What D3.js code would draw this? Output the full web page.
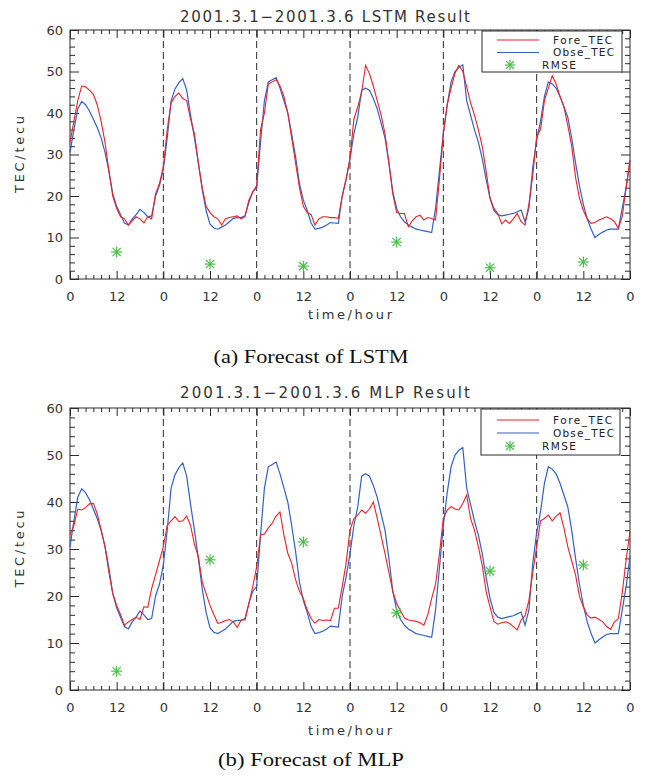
<!DOCTYPE html>
<html><head><meta charset="utf-8">
<script src="https://cdn.jsdelivr.net/npm/d3@7"></script>
<style>body{margin:0;background:#fff}svg{display:block}</style>
</head><body><svg id="c" width="650" height="775"></svg>
<script>
// ---------- data ----------
const hours = d3.range(0, 145);
const obsTEC = [
  30.5,36,41,42.8,42,40.5,38.5,36.5,34,30.5,26,20.5,17.5,15.5,13.5,13,14.5,15.5,16.8,16,15,15.2,20,22.5,
  26.5,34,43,45.8,47.3,48.3,45.5,39.5,34,28,21.5,16.5,13.2,12.3,12,12.5,13,13.8,14.6,14.8,14.8,15.2,18.5,21,
  22,33,43,47.5,48,48.5,46,43,40,35,29.5,23,19,16.5,13.5,12,12.2,12.5,13,13.6,13.5,13.4,20,24,
  29,35,39,45.5,46,45.5,43.5,41,37.5,34,28,21,17,15,13.8,13,12.5,12,11.8,11.6,11.4,11.2,17,26,
  35,42,47.5,50,51,51.6,43,39.5,36,33,29,24,19.5,16.5,15.5,15.2,15.4,15.6,15.8,16.2,16.6,13.8,17,27,
  33.5,38,44,47.5,47,46,44,41.5,39,34,28,22.5,18,14.5,12,10,10.7,11.3,11.8,12,12,12,17,22,28.5
];
const lstmTEC = [
  33,38,43,46.5,46.3,45.5,44.5,42,38,33,26,20,17,15,14.5,13,14,15,14.5,13.5,15,14.5,20.5,23,
  27,36,42.5,44,44.8,43.5,43,38.5,35,28,22,17.5,16,15,14.5,13,14.5,14.8,15,15.2,14.5,15,19,21,
  22.5,36,40,47,47.5,48,46.5,44,40,34,28,22,17.5,16,15.5,13,14.5,15,15,14.8,14.8,14.6,20,24,
  29,38.5,41.5,45,51.5,49.5,46.5,43,39.5,35,28,20.5,16,15.8,15.8,12.6,14,15,15.4,14.2,14.8,14.6,14.2,24,
  35,42,46,49.6,51.5,50,46.3,42.5,39.5,36,32,26,19.5,17,15.8,13.3,14.2,13.4,14.5,15.8,13.8,13,18,25,
  34.3,36,43,46,49,47,44,41.5,37,32,24.5,19.5,16.5,14.5,13.4,13.6,14.2,14.6,15,14.5,13.8,12.2,15,22,28.7
];
const mlpTEC = [
  33,35,38.5,38.3,38.8,39.6,39.7,37.5,34,30.5,25,20.5,18,16,13.8,14.5,15,15.5,15,17.7,17.6,21.6,24.5,27.5,
  30.5,35,36,36.9,35.8,36,37,35,31,28.4,23,20.5,18,16,14.2,14.4,14.8,15,14.5,13.3,14.9,14.9,18.4,22,
  26.2,33,33.2,34.5,35.5,37,37.9,33,29.1,27,23.5,21,19.5,17,15.2,14.2,15,14.8,14.9,14.8,17.4,17.4,22,27,
  34,36.5,37.2,38.3,37.6,38.5,40,36.5,32.8,29,25,21,18.4,16.8,15.3,14.9,14.8,14.6,14.3,13.8,16,19.5,22.5,29,
  36.5,38.3,39,38.5,38.3,39.7,41.5,36.5,34,30.5,26.5,21,17.7,14.6,14,14.3,14.5,14.2,13.5,12.8,14.9,15.8,19,25,
  30.5,36,36.5,37.2,36,37,37.7,34.5,30.5,27.5,24.5,19.9,17.7,16,15.3,15.5,15,14.5,13.5,12.9,14.5,15.2,20.6,27.7,33.7
];
const rmseHours = [12, 36, 60, 84, 108, 132];
const lstmRMSE = [6.5, 3.6, 3.1, 8.9, 2.7, 4.1];
const mlpRMSE = [4.0, 27.7, 31.5, 16.4, 25.3, 26.6];
const xTickValues = [0,12,24,36,48,60,72,84,96,108,120,132,144];
const xTickLabels = ["0","12","0","12","0","12","0","12","0","12","0","12","0"];
const yTickValues = [0,10,20,30,40,50,60];
const dayBoundaries = [24,48,72,96,120];
const titles = ["2001.3.1\u22122001.3.6 LSTM Result", "2001.3.1\u22122001.3.6 MLP Result"];
const captions = ["(a) Forecast of LSTM", "(b) Forecast of MLP"];
const legendNames = ["Fore_TEC", "Obse_TEC", "RMSE"];

// ---------- layout ----------
const svg = d3.select("#c");
const X0 = 70, X1 = 630;
const x = d3.scaleLinear().domain([0,144]).range([X0, X1]);
const panels = [
  {top:30, bottom:279, fore:lstmTEC, rmse:lstmRMSE, title:titles[0], caption:captions[0], capLen:195,
   titleY:22, xlabY:319, capY:363, leg:{x:482,y:31,w:140,h:41,r1:40,r2:52.5,r3:65}},
  {top:408, bottom:690, fore:mlpTEC, rmse:mlpRMSE, title:titles[1], caption:captions[1], capLen:186,
   titleY:398, xlabY:735, capY:766, leg:{x:481,y:409,w:139,h:46,r1:420,r2:433,r3:446}}
];
const RED = "#e8222a", BLUE = "#3461c1", GREEN = "#4cbb4c", INK = "#2a2a2a";
const FONT = "DejaVu Sans, sans-serif";

function asterisk(g, cx, cy, r) {
  const a = g.append("g").attr("transform", `translate(${cx},${cy})`)
    .attr("stroke", GREEN).attr("stroke-width", 1.2);
  [[-r,0,r,0],[0,-r,0,r],[-r*0.75,-r*0.75,r*0.75,r*0.75],[-r*0.75,r*0.75,r*0.75,-r*0.75]]
    .forEach(p => a.append("line").attr("x1",p[0]).attr("y1",p[1]).attr("x2",p[2]).attr("y2",p[3]));
}

panels.forEach(P => {
  const y = d3.scaleLinear().domain([0,60]).range([P.bottom, P.top]);
  const g = svg.append("g");

  // title
  g.append("text").attr("x", 325).attr("y", P.titleY).attr("text-anchor","middle")
    .attr("font-family", FONT).attr("font-size", 15).attr("fill", "#333")
    .attr("textLength", 290).attr("lengthAdjust","spacing").text(P.title);

  // minor ticks
  const minorX = d3.range(0,145,2).filter(v => v % 12 !== 0);
  const minorY = d3.range(0,61,2).filter(v => v % 10 !== 0);
  const axStyle = sel => { sel.select(".domain").remove(); sel.selectAll("line").attr("stroke", INK); };
  g.append("g").attr("transform",`translate(0,${P.bottom})`)
    .call(d3.axisBottom(x).tickValues(minorX).tickSize(-4).tickFormat("")).call(axStyle);
  g.append("g").attr("transform",`translate(0,${P.top})`)
    .call(d3.axisTop(x).tickValues(minorX).tickSize(-4).tickFormat("")).call(axStyle);
  g.append("g").attr("transform",`translate(${X0},0)`)
    .call(d3.axisLeft(y).tickValues(minorY).tickSize(-5).tickFormat("")).call(axStyle);
  g.append("g").attr("transform",`translate(${X1},0)`)
    .call(d3.axisRight(y).tickValues(minorY).tickSize(-5).tickFormat("")).call(axStyle);

  // major ticks with labels
  const bx = g.append("g").attr("transform",`translate(0,${P.bottom})`)
    .call(d3.axisBottom(x).tickValues(xTickValues).tickSize(-8).tickPadding(13)
      .tickFormat((d,i) => xTickLabels[i])).call(axStyle);
  bx.selectAll("text").attr("font-family", FONT).attr("font-size", 13).attr("fill","#333");
  g.append("g").attr("transform",`translate(0,${P.top})`)
    .call(d3.axisTop(x).tickValues(xTickValues).tickSize(-8).tickFormat("")).call(axStyle);
  const ly = g.append("g").attr("transform",`translate(${X0},0)`)
    .call(d3.axisLeft(y).tickValues(yTickValues).tickSize(-9).tickPadding(7)).call(axStyle);
  ly.selectAll("text").attr("font-family", FONT).attr("font-size", 13).attr("fill","#333");
  g.append("g").attr("transform",`translate(${X1},0)`)
    .call(d3.axisRight(y).tickValues(yTickValues).tickSize(-9).tickFormat("")).call(axStyle);

  // frame
  g.append("rect").attr("x", X0).attr("y", P.top).attr("width", X1-X0).attr("height", P.bottom-P.top)
    .attr("fill","none").attr("stroke", INK).attr("stroke-width", 1);

  // axis titles
  g.append("text").attr("transform",`translate(24,${(P.top+P.bottom)/2}) rotate(-90)`)
    .attr("text-anchor","middle").attr("font-family", FONT).attr("font-size", 13).attr("fill","#333")
    .attr("textLength", 77).attr("lengthAdjust","spacing").text("TEC/tecu");
  g.append("text").attr("x", 350).attr("y", P.xlabY).attr("text-anchor","middle")
    .attr("font-family", FONT).attr("font-size", 13).attr("fill","#333")
    .attr("textLength", 84).attr("lengthAdjust","spacing").text("time/hour");

  // day separators
  g.selectAll(".day").data(dayBoundaries).join("line")
    .attr("x1", d => x(d)).attr("x2", d => x(d)).attr("y1", P.top).attr("y2", P.bottom)
    .attr("stroke", INK).attr("stroke-width", 1).attr("stroke-dasharray","7,4");

  // series
  const line = d3.line().x((d,i) => x(hours[i])).y(d => y(d));
  g.append("path").datum(obsTEC).attr("d", line).attr("fill","none")
    .attr("stroke", BLUE).attr("stroke-width", 1.2);
  g.append("path").datum(P.fore).attr("d", line).attr("fill","none")
    .attr("stroke", RED).attr("stroke-width", 1.1);

  // rmse markers
  P.rmse.forEach((v,i) => asterisk(g, x(rmseHours[i]), y(v), 5.5));

  // legend
  const L = P.leg;
  g.append("rect").attr("x", L.x).attr("y", L.y).attr("width", L.w).attr("height", L.h)
    .attr("fill","#fff").attr("stroke", INK).attr("stroke-width", 1);
  g.append("line").attr("x1", 497).attr("x2", 539).attr("y1", L.r1).attr("y2", L.r1)
    .attr("stroke", RED).attr("stroke-width", 1.1);
  g.append("line").attr("x1", 497).attr("x2", 539).attr("y1", L.r2).attr("y2", L.r2)
    .attr("stroke", BLUE).attr("stroke-width", 1.2);
  asterisk(g, 510, L.r3, 5);
  const lt = [[553, L.r1, 59], [553, L.r2, 61], [542, L.r3, 34]];
  legendNames.forEach((n,i) => g.append("text").attr("x", lt[i][0]).attr("y", lt[i][1]).attr("dy","0.36em")
    .attr("font-family", FONT).attr("font-size", 10.5).attr("fill","#222")
    .attr("textLength", lt[i][2]).attr("lengthAdjust","spacing").text(n));

  // caption
  svg.append("text").attr("x", 311).attr("y", P.capY).attr("text-anchor","middle")
    .attr("font-family","Liberation Serif, Times New Roman, serif").attr("font-size", 19).attr("fill","#111")
    .attr("textLength", P.capLen).attr("lengthAdjust","spacingAndGlyphs")
    .text(P.caption);
});
</script></body></html>
